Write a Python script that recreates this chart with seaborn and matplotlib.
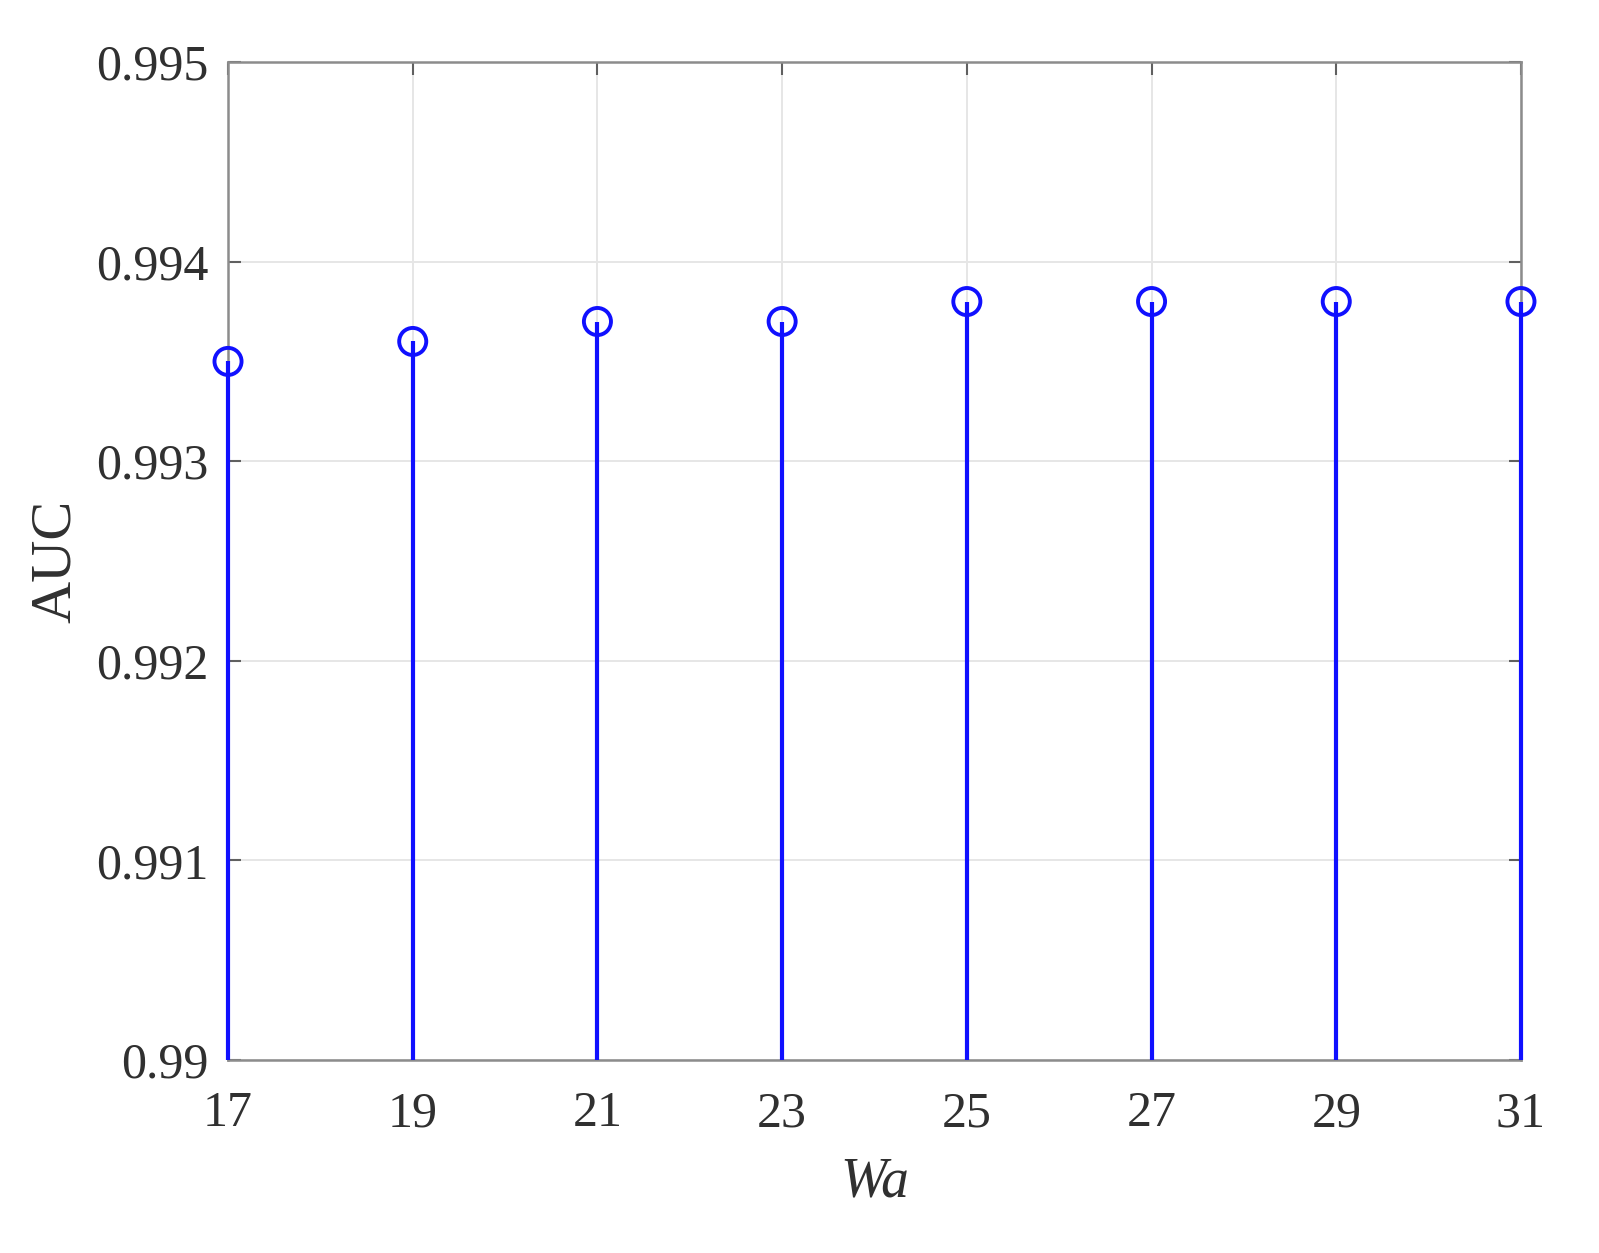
import numpy as np
import pandas as pd
import matplotlib
matplotlib.use("Agg")
import matplotlib.pyplot as plt
import seaborn as sns

# data
wa = [17, 19, 21, 23, 25, 27, 29, 31]
auc = [0.9935, 0.9936, 0.9937, 0.9937, 0.9938, 0.9938, 0.9938, 0.9938]
y_ticks = [0.99, 0.991, 0.992, 0.993, 0.994, 0.995]
y_tick_labels = ["0.99", "0.991", "0.992", "0.993", "0.994", "0.995"]

df = pd.DataFrame({"Wa": wa, "AUC": auc})

sns.set_theme(style="whitegrid")
plt.rcParams["font.family"] = ["Liberation Serif", "DejaVu Serif"]

fig = plt.figure(figsize=(15.99, 12.53), dpi=100)
ax = fig.add_axes([0.1426, 0.154, 0.8086, 0.7965])

# stems
ax.vlines(df["Wa"], 0.99, df["AUC"], color="#1010ff", linewidth=3.0, zorder=3, clip_on=False)

# markers
sns.scatterplot(data=df, x="Wa", y="AUC", ax=ax, marker="o", s=380,
                facecolors="none", edgecolor="#1010ff", linewidth=2.8,
                zorder=4, clip_on=False)

ax.set_xlim(17, 31)
ax.set_ylim(0.99, 0.995)
ax.set_xticks(wa)
ax.set_yticks(y_ticks)
ax.set_yticklabels(y_tick_labels)

ax.grid(True, color="#e6e6e6", linewidth=1.4)
for s in ax.spines.values():
    s.set_visible(True)
    s.set_color("#8c8c8c")
    s.set_linewidth(1.8)

ax.tick_params(direction="in", length=9, width=1.5, color="#606060",
               labelsize=36, labelcolor="#303030", top=True, right=True,
               bottom=True, left=True)
ax.tick_params(axis="x", pad=22)
ax.tick_params(axis="y", pad=14)

ax.set_xlabel("Wa", fontsize=40, style="italic", color="#303030", labelpad=14)
ax.set_ylabel("AUC", fontsize=42, color="#303030", labelpad=10)

fig.savefig("out.png", dpi=100, facecolor="white")
